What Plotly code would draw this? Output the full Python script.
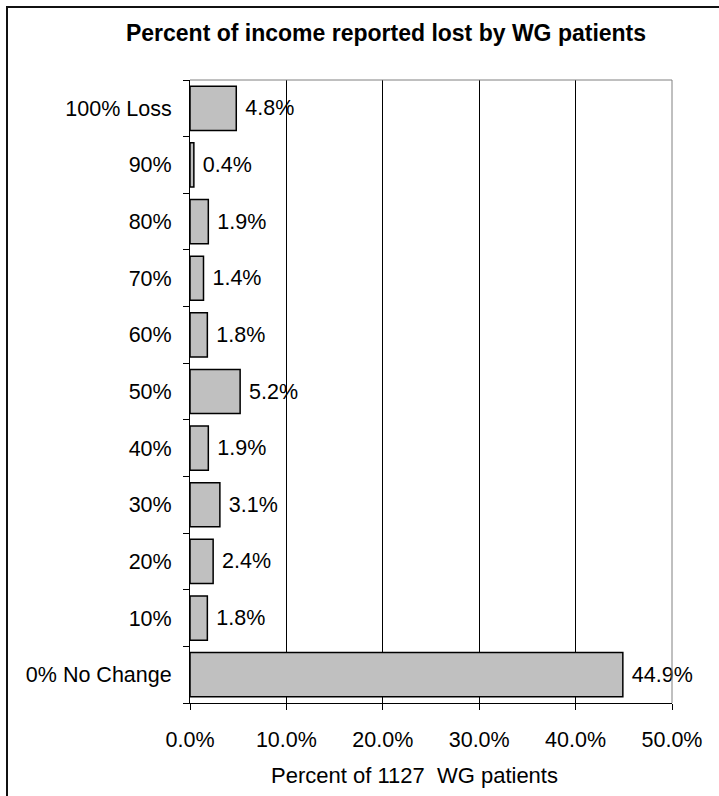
import plotly.graph_objects as go

categories = ["0% No Change", "10%", "20%", "30%", "40%", "50%", "60%", "70%", "80%", "90%", "100% Loss"]
percent_values = [44.9, 1.8, 2.4, 3.1, 1.9, 5.2, 1.8, 1.4, 1.9, 0.4, 4.8]
x_tick_values = [0, 10, 20, 30, 40, 50]
x_tick_labels = ["0.0%", "10.0%", "20.0%", "30.0%", "40.0%", "50.0%"]
title_text = "Percent of income reported lost by WG patients"
x_title_text = "Percent of 1127  WG patients"

W, H = 719, 796
L, R, T, B = 190, 672, 80, 703  # plot area in pixels

def px_x(p):
    return (p - L) / (R - L)

def px_y(p):
    return (B - p) / (B - T)

FONT = "Liberation Sans, Arial, sans-serif"

fig = go.Figure()
fig.add_trace(go.Bar(
    x=percent_values,
    y=categories,
    orientation="h",
    marker=dict(color="#C0C0C0", line=dict(color="black", width=1.5)),
    text=["\u00a0" + f"{v:.1f}%" for v in percent_values],
    textposition="outside",
    constraintext="none",
    cliponaxis=False,
    textfont=dict(family=FONT, size=21.5, color="black"),
    hoverinfo="skip",
))

shapes = [
    dict(type="line", xref="paper", yref="paper", x0=0, x1=1, y0=1, y1=1,
         line=dict(color="#808080", width=1), layer="above"),
    dict(type="line", xref="paper", yref="paper", x0=1, x1=1, y0=0, y1=1,
         line=dict(color="#808080", width=1), layer="above"),
    dict(type="rect", xref="paper", yref="paper",
         x0=px_x(7), x1=px_x(740), y0=px_y(830), y1=px_y(7),
         line=dict(color="#111111", width=2), fillcolor="rgba(0,0,0,0)", layer="above"),
]

fig.update_layout(
    width=W, height=H,
    margin=dict(l=L, r=W - R, t=T, b=H - B, pad=0),
    paper_bgcolor="white", plot_bgcolor="white",
    showlegend=False,
    bargap=0.22,
    font=dict(family=FONT, size=21.5, color="black"),
    title=dict(text=f"<b>{title_text}</b>", x=386 / W, xanchor="center",
               y=1 - 33 / H, yanchor="middle", yref="container",
               font=dict(family=FONT, size=23, color="black")),
    xaxis=dict(range=[0, 50], tickvals=x_tick_values, ticktext=x_tick_labels,
               showgrid=True, gridcolor="black", gridwidth=1,
               showline=True, linecolor="black", linewidth=1,
               ticks="outside", ticklen=6, tickcolor="black",
               ticklabelstandoff=11, zeroline=False,
               tickfont=dict(family=FONT, size=21.5, color="black")),
    yaxis=dict(type="category", categoryorder="array", categoryarray=categories,
               showgrid=False, showline=True, linecolor="black", linewidth=1,
               ticks="outside", ticklen=6, tickcolor="black", tickson="boundaries",
               ticklabelstandoff=13,
               tickfont=dict(family=FONT, size=21.5, color="black")),
    shapes=shapes,
    annotations=[dict(text=x_title_text, xref="paper", yref="paper",
                      x=px_x(414), y=px_y(776), xanchor="center", yanchor="middle",
                      showarrow=False, font=dict(family=FONT, size=22, color="black"))],
)

fig.write_html("out.html",
               config={"displayModeBar": False},
               post_script="document.body.style.margin='0';document.body.style.padding='0';document.body.style.overflow='hidden';")
